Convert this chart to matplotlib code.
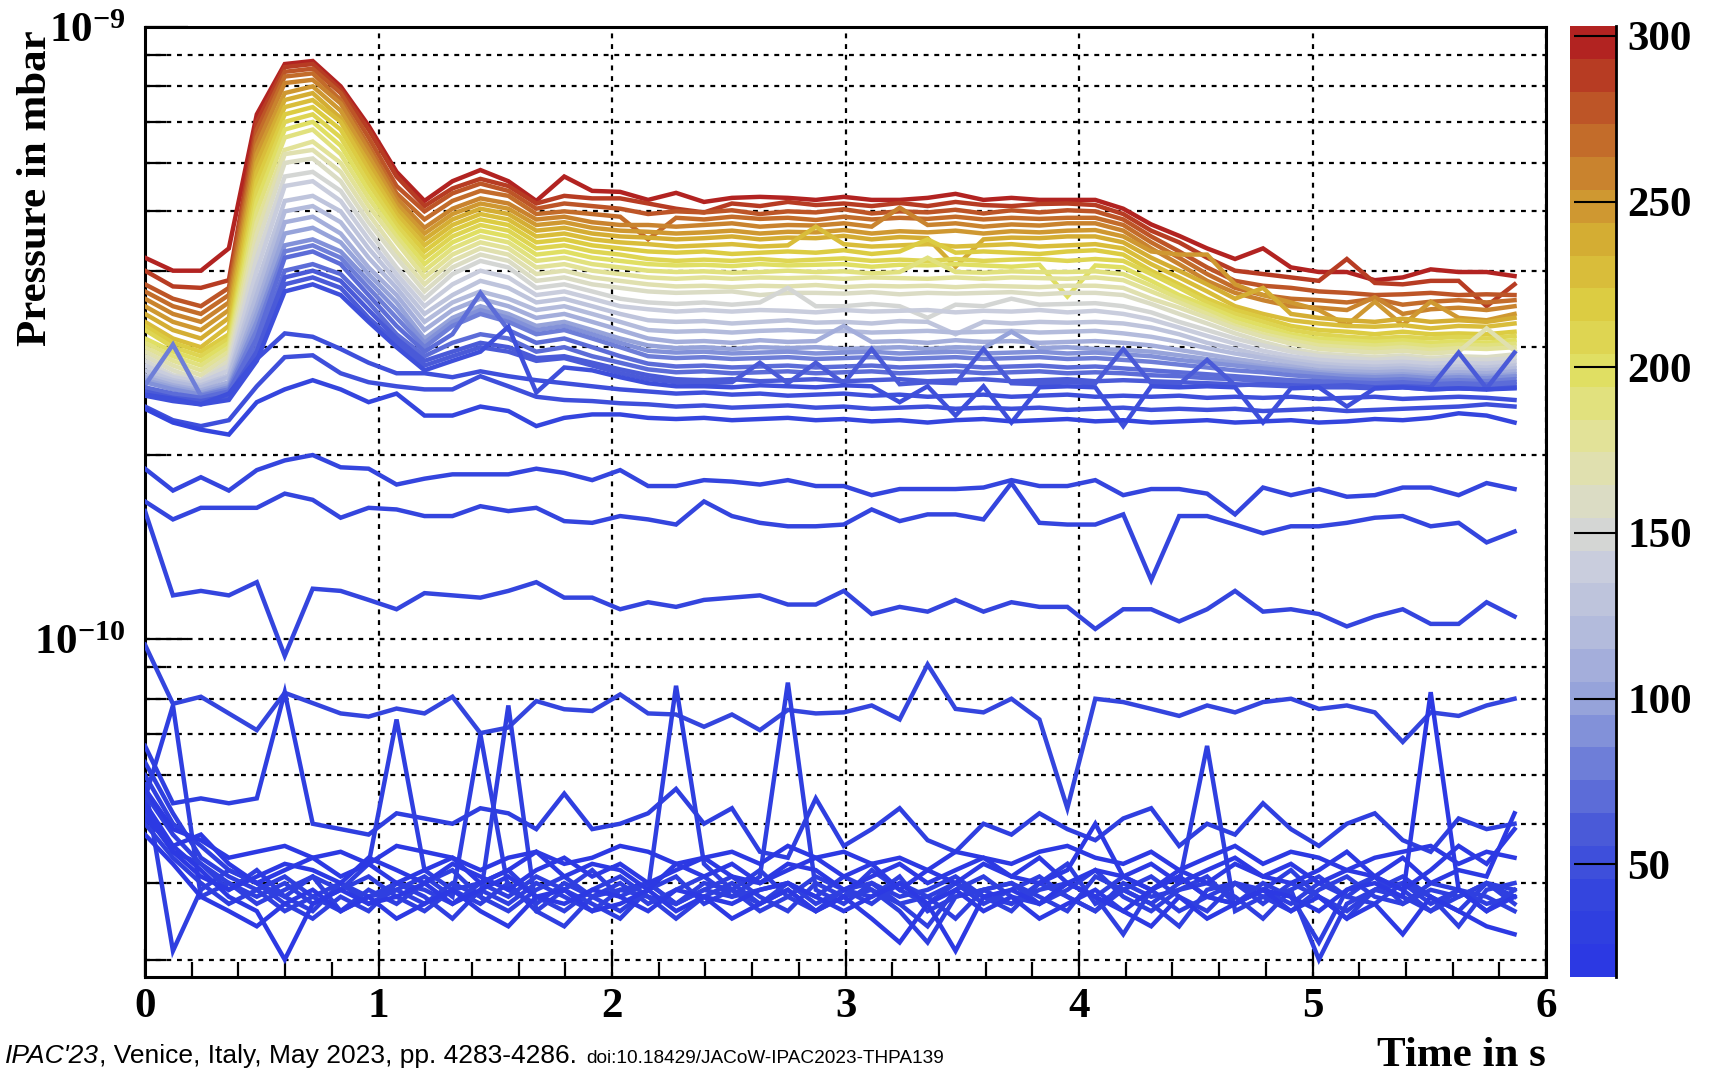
import numpy as np
import matplotlib
matplotlib.use("Agg")
import matplotlib.pyplot as plt
from matplotlib.colors import LinearSegmentedColormap, ListedColormap, BoundaryNorm
from matplotlib.cm import ScalarMappable
from matplotlib.ticker import FixedLocator, NullFormatter

plt.rcParams['font.family'] = ['Liberation Serif', 'DejaVu Serif']
plt.rcParams['font.weight'] = 'bold'
plt.rcParams['mathtext.fontset'] = 'custom'
plt.rcParams['mathtext.rm'] = 'Liberation Serif:bold'
plt.rcParams['mathtext.it'] = 'Liberation Serif:bold'
plt.rcParams['mathtext.bf'] = 'Liberation Serif:bold'

# sampling times (s), 50 samples per curve
time = np.arange(50) * 0.1197

# pressures in units of 1e-11 mbar, one list per curve
# warm / upper bundle, colour values 300 ... 55
upper_vals = [300, 290, 280, 270, 260, 250, 240, 230, 220, 210, 200, 190, 180, 170,
              160, 150, 140, 130, 120, 110, 100, 90, 80, 75, 70, 65, 60, 55]
upper_lines = [
    [42, 40, 40, 43.5, 72, 87, 88, 80, 69, 58,
     52, 56, 58.4, 56, 52, 57, 54, 53.8, 52.2, 53.6,
     51.8, 52.6, 52.8, 52.6, 52.2, 52.8, 52.2, 52.2, 52.6, 53.4,
     52.2, 52.6, 52.2, 52.2, 52.2, 50.5, 47.6, 45.6, 43.5, 41.8,
     43.5, 40.5, 39.8, 39.8, 38.6, 39.0, 40.2, 39.8, 39.8, 39.2],
    [40, 37.7, 37.5, 38.6, 70, 86, 87, 79, 68, 57,
     51, 54.5, 56.5, 55, 51.5, 53, 52.5, 52.5, 51.5, 50.5,
     49.8, 51.5, 51.0, 51.8, 51.2, 51.5, 51.0, 51.6, 51.0, 51.8,
     51.2, 51.0, 51.4, 51.5, 51.2, 49.5, 46.5, 44.5, 42.0, 40.0,
     39.5, 39.0, 38.5, 41.8, 38.2, 38.0, 38.5, 38.5, 35.0, 38.0],
    [38, 36, 35, 37.5, 68, 84.5, 85.5, 78, 66, 55,
     50, 53.5, 55.5, 54, 50.5, 51.5, 51, 50.5, 49.5, 50.0,
     49.8, 50.2, 49.5, 50.0, 49.8, 50.4, 49.6, 50.0, 49.8, 50.3,
     49.6, 50.2, 49.8, 50.2, 50.0, 48.5, 45.5, 43.0, 40.5, 38.5,
     37.8, 37.5, 37.0, 36.8, 36.5, 36.6, 36.8, 36.5, 36.6, 36.5],
    [37, 35, 34, 36.5, 66, 83, 84, 76, 64, 53.5,
     48.5, 52, 54, 53, 49.5, 50, 49.5, 49, 45, 48.8,
     48.5, 49.0, 48.6, 48.8, 48.4, 49.0, 48.5, 48.8, 48.6, 49.0,
     48.5, 48.8, 48.6, 48.8, 48.8, 47.5, 44.5, 42.0, 39.5, 37.5,
     36.5, 36.0, 35.8, 35.5, 36.0, 35.2, 35.6, 35.8, 35.5, 35.8],
    [36, 34, 33, 35.5, 64, 81, 82, 75, 63, 52.5,
     47, 50.5, 52.5, 51.5, 48.5, 49, 48, 47.5, 47.5, 47.2,
     47.5, 47.8, 47.2, 47.5, 47.4, 47.8, 47.2, 50.7, 47.5, 47.8,
     47.2, 47.6, 47.4, 47.8, 47.8, 46.5, 43.5, 41.0, 38.5, 36.8,
     35.8, 35.0, 34.8, 34.5, 36.2, 34.0, 34.6, 34.8, 34.5, 35.0],
    [35, 33, 32, 34.5, 62, 78, 80, 73, 61.5, 51.5,
     46, 49.5, 51.5, 50.5, 47.5, 48, 47, 46.5, 46.3, 46.0,
     46.2, 46.5, 46.0, 46.3, 46.2, 46.6, 46.0, 46.4, 46.2, 46.5,
     46.0, 46.4, 46.2, 46.5, 46.6, 45.5, 43.0, 42.5, 42.5, 38.0,
     36.5, 35.5, 34.5, 32.6, 35.6, 32.6, 35.6, 33.5, 33.2, 34.0],
    [34, 32, 31, 33.5, 60, 76, 78, 71, 60, 50.5,
     45, 48.5, 50.5, 49.5, 46.5, 47, 46, 45.5, 45.3, 45.0,
     45.2, 45.5, 45.0, 45.3, 45.2, 45.6, 45.0, 45.4, 45.2, 40.6,
     45.0, 45.3, 45.2, 45.5, 45.5, 44.5, 42.0, 40.0, 38.0, 36.0,
     37.5, 34.0, 33.5, 33.2, 33.0, 33.4, 33.0, 33.2, 33.0, 33.5],
    [33, 31, 30, 32.5, 58, 74, 76, 70, 58.5, 49.5,
     44, 47.5, 49.5, 48.5, 45.5, 46, 45, 44.5, 44.2, 43.8,
     44.0, 44.2, 43.8, 44.0, 47.2, 44.2, 43.8, 44.0, 44.2, 43.8,
     44.0, 44.2, 43.8, 44.0, 44.2, 43.5, 41.0, 39.0, 37.0, 35.0,
     34.0, 33.2, 32.8, 32.5, 32.4, 32.6, 32.2, 32.5, 32.4, 32.8],
    [32.5, 30.5, 29.5, 31.5, 56, 72, 74, 68, 57, 48.5,
     43, 46.5, 48.5, 47.5, 44.5, 45, 44, 43.5, 43.0, 42.8,
     43.0, 42.6, 42.8, 43.0, 42.8, 43.2, 42.6, 43.0, 45.0, 42.8,
     43.0, 42.8, 42.6, 43.0, 43.2, 42.5, 40.0, 38.0, 36.0, 34.5,
     33.5, 32.5, 32.0, 31.8, 31.5, 31.8, 31.5, 31.6, 31.5, 31.8],
    [32, 30, 29, 31, 54, 70, 72, 66, 55.5, 47.5,
     42, 45.5, 47.5, 46.5, 43.5, 44, 43, 42.5, 41.8, 41.5,
     41.7, 41.5, 41.8, 41.5, 41.7, 41.9, 41.5, 41.7, 41.5, 41.8,
     41.5, 41.7, 41.8, 41.5, 41.8, 41.5, 39.5, 37.5, 35.5, 34.0,
     33.0, 32.0, 31.5, 31.2, 31.0, 31.2, 31.0, 31.2, 31.0, 31.3],
    [31, 29.5, 28.5, 30.5, 52, 68, 70, 64, 54, 46.5,
     41, 44.5, 46.5, 45.5, 42.5, 43, 42, 41.5, 41.0, 40.8,
     40.9, 40.7, 41.0, 40.8, 40.9, 41.0, 40.6, 40.9, 40.8, 41.0,
     40.8, 40.6, 40.9, 36.3, 40.8, 40.5, 38.5, 36.5, 35.0, 33.5,
     32.5, 31.5, 31.0, 30.8, 30.6, 30.8, 30.5, 30.7, 30.5, 30.8],
    [30.5, 29, 28, 30, 50, 66, 68, 62, 52.5, 45.5,
     40, 43.5, 45.5, 44.5, 41.5, 42, 41, 40.5, 40.0, 39.8,
     39.9, 39.7, 39.8, 40.0, 39.8, 39.9, 39.6, 39.8, 42.0, 39.8,
     39.7, 39.9, 39.8, 39.8, 39.9, 39.5, 37.8, 36.0, 34.5, 33.0,
     32.0, 31.2, 30.6, 30.4, 30.2, 30.4, 30.1, 30.3, 30.2, 30.4],
    [30, 28.5, 27.5, 29.5, 48, 63, 65, 60, 51, 44.5,
     39, 42.5, 44.5, 43.5, 40.5, 41, 40, 39.5, 39.0, 38.8,
     39.0, 38.8, 39.0, 38.9, 39.0, 38.8, 39.0, 38.9, 38.8, 39.0,
     38.8, 39.0, 38.9, 38.8, 39.0, 38.6, 37.0, 35.5, 34.0, 32.5,
     31.5, 30.8, 30.2, 30.0, 29.8, 30.0, 29.7, 29.9, 29.8, 30.0],
    [29.5, 28, 27, 29, 46, 62, 63, 58, 49.5, 43,
     38, 41.5, 43.5, 42.5, 39.5, 40, 39, 38.5, 38.0, 37.7,
     37.8, 37.6, 37.8, 37.7, 37.9, 37.6, 37.8, 37.7, 37.8, 37.6,
     37.8, 37.7, 37.6, 37.8, 37.8, 37.5, 36.0, 34.8, 33.5, 32.2,
     31.2, 30.4, 29.8, 29.6, 29.4, 29.6, 29.3, 29.5, 32.2, 29.6],
    [29, 27.5, 26.5, 28.5, 44, 60, 61, 56, 48, 42,
     37, 40.5, 42.5, 41.5, 38.5, 39, 38, 37.5, 37.0, 36.8,
     36.9, 37.0, 36.5, 36.8, 36.8, 36.7, 36.9, 36.6, 36.8, 36.7,
     36.8, 36.9, 36.6, 36.8, 36.8, 36.5, 35.3, 34.0, 32.8, 31.6,
     30.6, 29.8, 29.3, 29.1, 28.9, 29.1, 28.8, 29.0, 28.9, 29.2],
    [28.5, 27, 26.5, 28, 42, 57, 58, 54, 46.5, 40.5,
     36, 39.5, 41.5, 40.5, 37.5, 38, 37, 36, 35.5, 35.3,
     35.5, 35.2, 35.5, 37.5, 35.0, 35.0, 35.3, 35.0, 33.5, 35.2,
     35.0, 36.0, 35.2, 35.3, 35.4, 35.0, 34.2, 33.0, 32.0, 31.0,
     30.2, 29.5, 29.0, 28.8, 28.6, 28.8, 28.5, 28.7, 28.6, 28.8],
    [28, 26.8, 26.3, 27.5, 40, 55, 56, 52, 45, 39.5,
     35, 38, 40, 39, 36.5, 37, 36, 35, 34.6, 34.3,
     34.5, 34.3, 34.5, 34.4, 34.2, 34.5, 34.3, 34.4, 34.5, 34.2,
     34.4, 34.3, 34.5, 34.2, 34.4, 34.0, 33.3, 32.3, 31.3, 30.4,
     29.6, 29.0, 28.6, 28.4, 28.3, 28.4, 28.2, 28.3, 28.2, 28.4],
    [27.5, 26.5, 26, 27, 38, 52, 53, 50, 43.5, 38.5,
     34, 36.5, 38.5, 37.5, 35.5, 36, 35, 34, 33.2, 33.0,
     33.1, 32.8, 33.0, 33.2, 32.9, 33.0, 32.8, 33.1, 33.0, 31.5,
     33.0, 32.8, 33.0, 32.9, 33.0, 32.8, 32.3, 31.5, 30.5, 29.8,
     29.1, 28.6, 28.2, 28.0, 27.9, 28.0, 27.8, 27.9, 27.8, 28.0],
    [27, 26.3, 25.8, 26.8, 36.5, 50, 51, 48, 42, 37.5,
     33, 35.5, 37, 36, 34.5, 35, 34, 33, 32.0, 31.8,
     31.9, 31.7, 31.9, 32.0, 31.8, 31.9, 31.7, 31.8, 31.9, 31.7,
     31.8, 31.9, 31.7, 31.8, 31.9, 31.6, 31.2, 30.6, 29.9, 29.3,
     28.8, 28.3, 27.9, 27.7, 27.6, 27.7, 27.5, 27.6, 27.5, 27.7],
    [26.8, 26, 25.5, 26.3, 35, 48, 49, 46, 40.5, 36.5,
     32, 34.5, 36, 35, 33.5, 34, 33, 32, 31.0, 30.6,
     30.7, 30.5, 30.8, 30.6, 30.7, 32.5, 30.6, 30.7, 30.5, 30.8,
     30.6, 30.7, 30.5, 30.6, 30.7, 30.5, 30.2, 29.7, 29.2, 28.7,
     28.3, 27.9, 27.5, 27.4, 27.3, 27.4, 27.2, 27.3, 27.2, 27.4],
    [26.5, 25.8, 25.3, 26, 34, 46, 47, 44.5, 39.5, 35.5,
     31, 33.5, 35, 34, 32.5, 33, 32, 31, 30.2, 29.9,
     30.0, 29.8, 30.0, 29.9, 30.0, 29.8, 29.9, 30.0, 29.8, 30.0,
     29.9, 31.8, 29.9, 30.0, 29.8, 29.7, 29.5, 29.1, 28.7, 28.3,
     27.9, 27.6, 27.3, 27.1, 27.0, 27.1, 26.9, 27.0, 26.9, 27.1],
    [26.3, 25.6, 25.1, 25.8, 33, 44, 45, 43, 38.5, 34.5,
     30.5, 33, 34.5, 33.5, 32, 32.5, 31.5, 30.5, 29.6, 29.4,
     29.5, 29.3, 29.4, 29.5, 29.3, 29.4, 29.5, 29.3, 29.4, 29.5,
     29.3, 29.4, 29.5, 29.3, 29.4, 29.2, 29.0, 28.6, 28.3, 28.0,
     27.7, 27.4, 27.1, 26.9, 26.8, 26.9, 26.7, 26.8, 26.7, 26.9],
    [26, 30.3, 25, 25.6, 32, 43, 44, 42, 37.5, 33.5,
     30, 32.5, 34, 33, 31.5, 32, 31, 30, 29.0, 28.8,
     28.9, 28.7, 28.8, 28.9, 28.7, 28.8, 28.9, 28.7, 28.8, 28.9,
     28.7, 28.8, 28.9, 28.7, 28.8, 28.6, 28.4, 28.1, 27.8, 27.5,
     27.3, 27.0, 26.8, 26.6, 26.5, 26.6, 26.4, 26.5, 26.4, 26.6],
    [25.8, 25.2, 24.8, 25.4, 31, 42, 43, 41, 36.5, 32.5,
     29.5, 31.5, 36.8, 32, 30.5, 31, 30, 29, 28.2, 27.9,
     28.0, 27.8, 27.9, 28.0, 27.8, 27.9, 28.0, 27.8, 27.9, 28.0,
     27.8, 27.9, 28.0, 27.8, 27.9, 27.7, 27.5, 27.3, 27.1, 26.9,
     26.7, 26.5, 26.4, 26.3, 26.2, 26.3, 26.1, 26.2, 26.1, 26.3],
    [25.6, 25, 24.6, 25.2, 30, 40, 41, 39.5, 35.5, 31.5,
     29, 30.5, 31.5, 31, 29.5, 30, 29, 28.3, 27.6, 27.3,
     27.4, 27.2, 27.3, 27.4, 27.2, 27.3, 27.4, 27.2, 27.3, 27.4,
     27.2, 27.3, 27.4, 27.2, 27.3, 27.2, 27.0, 26.9, 26.7, 26.6,
     26.4, 26.3, 26.2, 26.1, 26.0, 26.1, 25.9, 26.0, 25.9, 26.1],
    [25.4, 24.8, 24.5, 25, 29.5, 39, 40, 38.5, 34.5, 31,
     28.5, 29.5, 30.5, 30, 28.8, 29, 28.3, 27.6, 27.0, 26.6,
     26.5, 26.6, 26.4, 26.5, 26.6, 26.4, 26.5, 26.6, 26.4, 26.5,
     26.6, 26.4, 26.5, 26.6, 26.4, 26.5, 26.4, 26.3, 26.2, 26.1,
     26.0, 25.9, 25.8, 25.8, 25.7, 25.8, 25.6, 25.7, 25.6, 25.8],
    [25.2, 24.6, 24.3, 24.8, 29, 38, 39, 37.5, 33.5, 30.5,
     28, 29, 30, 29.5, 28.5, 28.8, 28, 27.2, 26.6, 26.3,
     26.2, 26.3, 28.3, 26.2, 28.3, 26.2, 29.8, 26.1, 26.3, 26.2,
     29.8, 26.2, 26.1, 26.3, 26.2, 29.8, 26.2, 26.1, 28.6, 26.0,
     26.1, 26.0, 25.9, 26.0, 25.8, 25.9, 25.8, 29.4, 25.7, 29.4],
    [25, 24.5, 24.2, 24.6, 28.5, 37, 38, 36.5, 33, 30,
     27.5, 28.5, 29.5, 32.4, 25.3, 27.8, 27.5, 26.8, 26.2, 25.9,
     25.9, 25.8, 26.0, 25.9, 25.8, 26.0, 25.9, 24.4, 25.9, 23.2,
     25.9, 22.6, 25.8, 25.9, 25.8, 22.3, 25.9, 25.8, 25.9, 25.8,
     22.6, 25.7, 25.8, 24.0, 25.7, 25.8, 25.6, 25.7, 25.6, 25.7],
]

# curves just under the bundle and the flat ones between 1e-10 and 2e-10
middle_vals = [50, 47, 44, 42, 40, 38]
middle_lines = [
    [25.1, 24.7, 24.2, 25.2, 28.7, 31.6, 31.2, 29.8, 28.3, 27.2,
     27.2, 26.8, 27.4, 26.9, 26.5, 26.2, 25.9, 25.6, 25.4, 25.2,
     25.3, 25.1, 25.2, 25.0, 25.1, 25.2, 25.0, 25.1, 24.9, 25.0,
     25.1, 24.9, 25.0, 25.1, 24.9, 25.0, 24.9, 25.0, 24.8, 24.9,
     24.8, 24.9, 24.7, 24.8, 24.9, 24.7, 24.8, 24.9, 24.8, 24.6],
    [24.0, 22.8, 22.3, 22.8, 25.9, 28.9, 29.1, 27.2, 26.3, 25.9,
     25.6, 25.6, 26.9, 25.9, 24.9, 24.6, 24.5, 24.3, 24.2, 24.0,
     24.1, 23.9, 24.0, 24.1, 23.9, 24.0, 23.8, 23.9, 24.0, 23.8,
     23.9, 23.8, 23.9, 23.7, 23.8, 23.9, 23.7, 23.8, 23.7, 23.8,
     23.6, 23.7, 23.8, 23.6, 23.7, 23.8, 23.9, 24.0, 24.2, 24.0],
    [23.8, 22.6, 22.0, 21.6, 24.4, 25.6, 26.5, 25.6, 24.4, 25.2,
     23.2, 23.2, 24.0, 23.6, 22.3, 23.0, 23.3, 23.3, 23.0, 22.9,
     23.0, 22.8, 22.9, 23.0, 22.8, 22.9, 22.7, 22.8, 22.6, 22.8,
     22.9, 22.7, 22.8, 22.9, 22.7, 22.8, 22.6, 22.7, 22.8, 22.6,
     22.7, 22.8, 22.6, 22.7, 22.9, 22.8, 23.0, 23.4, 23.2, 22.6],
    [19.0, 17.5, 18.4, 17.5, 18.9, 19.6, 20.0, 19.1, 19.0, 17.9,
     18.3, 18.6, 18.6, 18.6, 19.0, 18.7, 18.2, 18.9, 17.8, 17.8,
     18.2, 18.1, 17.9, 18.2, 17.8, 17.8, 17.2, 17.6, 17.6, 17.6,
     17.7, 18.2, 17.8, 17.8, 18.2, 17.2, 17.6, 17.6, 17.3, 16.0,
     17.7, 17.2, 17.6, 17.1, 17.2, 17.7, 17.7, 17.2, 18.0, 17.6],
    [16.8, 15.7, 16.4, 16.4, 16.4, 17.3, 16.9, 15.8, 16.4, 16.3,
     15.9, 15.9, 16.5, 16.2, 16.4, 15.6, 15.5, 15.9, 15.7, 15.4,
     16.8, 15.9, 15.5, 15.3, 15.3, 15.4, 16.3, 15.6, 16.0, 16.0,
     15.7, 18.0, 15.5, 15.4, 15.4, 16.0, 12.5, 15.9, 15.9, 15.4,
     14.9, 15.3, 15.3, 15.5, 15.8, 15.9, 15.3, 15.5, 14.4, 15.0],
    [16.2, 11.8, 12.0, 11.8, 12.4, 9.4, 12.1, 12.0, 11.6, 11.2,
     11.9, 11.8, 11.7, 12.0, 12.4, 11.7, 11.7, 11.2, 11.5, 11.3,
     11.6, 11.7, 11.8, 11.4, 11.4, 12.0, 11.0, 11.3, 11.1, 11.6,
     11.1, 11.5, 11.3, 11.3, 10.4, 11.2, 11.2, 10.7, 11.2, 12.0,
     11.1, 11.2, 11.0, 10.5, 10.9, 11.2, 10.6, 10.6, 11.5, 10.9],
]

# noisy curves below 1e-10
lower_vals = [36, 34, 32, 31, 30, 29, 28, 27, 26, 25, 24, 22, 20, 18]
lower_lines = [
    [9.8, 7.85, 8.06, 7.57, 7.11, 8.18, 7.87, 7.57, 7.48, 7.71,
     7.57, 8.06, 7.03, 7.18, 7.93, 7.69, 7.64, 8.13, 7.57, 7.54,
     7.20, 7.54, 7.11, 7.67, 7.57, 7.6, 7.8, 7.4, 9.1, 7.7,
     7.6, 8.0, 7.4, 5.3, 8.0, 7.9, 7.7, 7.5, 7.8, 7.6,
     7.9, 8.0, 7.7, 7.8, 7.6, 6.8, 7.6, 7.5, 7.8, 8.0],
    [6.7, 5.4, 5.5, 5.4, 5.5, 8.2, 5.0, 4.9, 4.8, 5.2,
     5.1, 5.0, 5.3, 5.2, 4.9, 5.6, 4.9, 5.0, 5.2, 5.7,
     5.0, 5.3, 4.5, 4.4, 5.5, 4.6, 4.9, 5.3, 4.7, 4.5,
     5.0, 4.8, 5.2, 4.9, 4.7, 5.1, 5.3, 4.6, 5.0, 4.8,
     5.4, 4.9, 4.6, 5.0, 5.2, 4.7, 4.5, 5.1, 4.9, 5.0],
    [5.5, 7.8, 3.8, 4.0, 3.7, 3.9, 4.1, 3.6, 3.8, 4.0,
     3.9, 3.7, 4.0, 4.2, 3.8, 3.6, 3.9, 4.1, 3.8, 3.7,
     4.0, 3.9, 3.6, 3.8, 4.1, 3.9, 3.7, 4.0, 3.8, 3.5,
     3.9, 4.0, 3.8, 3.6, 4.1, 3.9, 3.7, 3.4, 3.9, 4.0,
     3.8, 3.6, 3.9, 4.1, 3.8, 3.7, 4.0, 3.9, 3.6, 3.9],
    [6.0, 5.0, 4.6, 4.2, 4.0, 3.8, 4.1, 3.9, 4.3, 7.4,
     4.2, 3.9, 3.7, 4.0, 3.6, 3.9, 4.2, 3.8, 4.0, 3.7,
     3.9, 4.1, 3.8, 3.6, 4.0, 3.8, 4.2, 3.9, 3.7, 4.0,
     3.8, 3.6, 4.0, 4.3, 3.7, 3.9, 4.1, 3.8, 3.6, 4.0,
     3.7, 4.0, 3.8, 3.5, 3.9, 4.1, 3.8, 3.6, 4.0, 3.7],
    [5.2, 4.5, 4.3, 3.9, 4.2, 3.8, 3.6, 4.0, 3.7, 3.9,
     4.1, 3.8, 7.0, 3.9, 3.7, 4.0, 3.8, 3.6, 3.9, 4.1,
     3.7, 3.9, 4.2, 3.8, 3.6, 3.9, 4.0, 3.7, 3.4, 3.9,
     4.1, 3.8, 3.7, 4.0, 3.8, 3.3, 3.9, 4.1, 3.8, 3.7,
     4.0, 3.8, 3.2, 3.9, 4.1, 3.7, 3.9, 3.8, 4.0, 3.8],
    [5.0, 4.4, 4.0, 3.7, 3.9, 4.1, 3.8, 3.6, 3.9, 3.7,
     4.0, 4.2, 3.8, 7.8, 3.6, 3.4, 3.8, 4.0, 3.7, 3.9,
     4.1, 3.8, 3.9, 4.0, 3.7, 3.9, 3.8, 4.1, 3.6, 3.8,
     3.9, 4.0, 3.7, 3.9, 4.2, 3.8, 3.6, 3.9, 4.0, 3.8,
     3.5, 3.9, 4.1, 3.8, 3.7, 4.0, 3.8, 3.4, 3.9, 4.0],
    [5.6, 4.8, 4.3, 4.0, 3.8, 4.0, 3.7, 3.9, 4.1, 3.8,
     3.6, 3.9, 4.0, 3.8, 4.1, 3.9, 3.7, 3.5, 3.9, 8.4,
     4.3, 3.9, 3.7, 4.0, 3.8, 4.1, 3.9, 3.7, 3.8, 4.0,
     3.7, 3.9, 4.1, 3.8, 3.6, 4.0, 3.8, 3.9, 4.1, 3.7,
     3.9, 4.2, 3.8, 3.6, 3.9, 4.0, 3.7, 3.9, 3.8, 3.6],
    [6.3, 5.2, 4.4, 4.1, 3.9, 3.6, 3.8, 4.0, 3.8, 3.9,
     3.7, 4.0, 3.8, 3.6, 3.9, 4.1, 3.8, 3.9, 4.0, 3.7,
     3.9, 3.8, 4.1, 8.5, 3.9, 3.7, 4.0, 3.8, 3.9, 4.1,
     3.8, 3.7, 3.9, 4.0, 3.8, 4.1, 3.9, 3.6, 3.8, 4.0,
     3.9, 3.7, 4.0, 3.8, 4.1, 3.9, 3.6, 3.8, 4.0, 3.9],
    [5.8, 3.1, 3.9, 4.2, 4.0, 3.7, 3.5, 3.8, 3.6, 4.0,
     3.8, 3.5, 3.9, 3.7, 4.0, 3.8, 3.6, 3.9, 3.8, 3.5,
     3.8, 4.0, 3.7, 3.9, 3.6, 3.8, 3.9, 3.6, 3.2, 3.8,
     3.9, 3.7, 4.0, 3.8, 3.6, 3.9, 3.7, 4.0, 6.7, 3.6,
     3.8, 3.9, 3.0, 3.7, 3.9, 3.8, 3.6, 3.9, 3.7, 3.8],
    [5.4, 4.6, 4.2, 3.8, 3.6, 3.0, 3.7, 3.9, 3.7, 3.8,
     4.0, 3.7, 3.9, 4.1, 3.8, 3.7, 3.9, 3.8, 3.6, 3.9,
     3.8, 3.7, 3.9, 4.0, 3.8, 3.6, 3.8, 4.0, 3.7, 3.1,
     3.8, 3.9, 3.7, 4.0, 3.8, 3.6, 3.9, 4.1, 3.8, 3.7,
     3.9, 3.8, 3.6, 3.9, 4.0, 3.8, 8.2, 3.9, 3.6, 3.8],
    [5.7, 4.9, 4.7, 4.4, 4.5, 4.6, 4.4, 4.5, 4.3, 4.6,
     4.5, 4.4, 4.2, 4.4, 4.5, 4.3, 4.4, 4.6, 4.5, 4.3,
     4.4, 4.5, 4.3, 4.6, 4.4, 4.5, 4.3, 4.4, 4.2, 4.5,
     4.4, 4.3, 4.5, 4.6, 4.4, 4.3, 4.5, 4.2, 4.4, 4.6,
     4.3, 4.5, 4.4, 4.2, 4.4, 4.5, 4.6, 4.3, 4.5, 4.4],
    [5.3, 4.5, 4.1, 3.9, 4.1, 4.3, 4.2, 4.0, 4.4, 4.2,
     4.0, 4.3, 4.1, 3.9, 4.2, 4.4, 4.1, 4.3, 4.0, 4.2,
     4.4, 4.1, 4.0, 4.3, 4.2, 3.9, 4.1, 4.3, 4.0, 4.2,
     4.4, 4.1, 4.0, 4.2, 5.0, 4.1, 3.9, 4.2, 4.0, 4.3,
     4.1, 4.0, 4.2, 4.5, 4.1, 3.9, 4.2, 4.6, 4.3, 4.9],
    [4.8, 4.3, 3.8, 3.6, 3.4, 3.7, 3.9, 3.6, 3.8, 3.5,
     3.7, 3.9, 3.6, 3.4, 3.8, 3.9, 3.6, 3.7, 3.9, 3.6,
     3.8, 3.5, 3.7, 3.9, 3.6, 3.8, 3.5, 3.2, 3.7, 3.9,
     3.6, 3.8, 3.5, 3.7, 3.9, 3.6, 3.4, 3.8, 3.5, 3.7,
     3.9, 3.6, 3.8, 3.5, 3.7, 3.3, 3.8, 3.6, 3.4, 3.3],
    [5.1, 4.6, 4.8, 4.3, 4.0, 4.2, 4.4, 4.1, 4.3, 4.0,
     4.2, 4.4, 4.0, 4.2, 4.5, 4.1, 4.3, 4.2, 3.9, 4.3,
     4.1, 4.3, 4.0, 4.2, 4.4, 4.1, 4.3, 3.9, 4.2, 4.0,
     4.3, 4.1, 4.4, 4.0, 4.2, 4.1, 4.3, 4.0, 4.2, 4.4,
     4.1, 4.3, 4.0, 4.2, 4.1, 4.4, 4.0, 4.2, 4.1, 5.2],
]

# palette (value -> colour) and its band edges
pal_vals = [16, 40, 60, 80, 100, 120, 140, 152, 165, 180, 200, 220, 240, 255, 270, 285, 303]
pal_cols = ['#2a36e4', '#3344de', '#4a5ad8', '#6e7ed8', '#95a2da', '#b4bcdc', '#c9cddd',
            '#d6d8d2', '#dfdfb8', '#e2e296', '#e0df62', '#dccb40', '#d4ab32', '#cc8c30',
            '#c26a2a', '#b84424', '#b01820']
z_min, z_max, n_bands = 16, 303, 29

smooth = LinearSegmentedColormap.from_list(
    'pal', [((v - z_min) / (z_max - z_min), c) for v, c in zip(pal_vals, pal_cols)])
bounds = np.linspace(z_min, z_max, n_bands + 1)
cmap = ListedColormap([smooth((b + 0.5 * (bounds[1] - bounds[0]) - z_min) / (z_max - z_min))
                       for b in bounds[:-1]])
norm = BoundaryNorm(bounds, cmap.N)

W, H = 1710, 1074
fig = plt.figure(figsize=(W / 100, H / 100), dpi=100)
ax = fig.add_axes([145 / W, 1 - 977 / H, (1546 - 145) / W, (977 - 27) / H])

for vals, z in zip(upper_lines + middle_lines + lower_lines,
                   upper_vals + middle_vals + lower_vals):
    ax.plot(time[:len(vals)], np.array(vals) * 1e-11, color=cmap(norm(z)),
            lw=3.2, solid_joinstyle='miter', zorder=3)

ax.set_yscale('log')
ax.set_xlim(0, 6)
ax.set_ylim(2.81e-11, 1e-9)
ax.yaxis.set_major_locator(FixedLocator([1e-10, 1e-9]))
ax.set_yticklabels([r'$10^{-10}$', r'$10^{-9}$'])
ax.yaxis.set_minor_locator(FixedLocator([k * 1e-11 for k in range(3, 10)] +
                                        [k * 1e-10 for k in range(2, 10)]))
ax.yaxis.set_minor_formatter(NullFormatter())
ax.set_xticks(range(7))
ax.set_xticks(np.arange(0, 6.01, 0.2), minor=True)

grid_style = dict(color='black', lw=1.6, ls=(0, (2.2, 2.6)))
ax.grid(True, which='both', axis='y', **grid_style)
ax.grid(True, which='major', axis='x', **grid_style)
ax.set_axisbelow(True)

ax.tick_params(axis='y', which='major', direction='in', length=31, width=1.6,
               labelsize=31, pad=14, right=False)
ax.tick_params(axis='y', which='minor', direction='in', length=15, width=1.6, right=False)
ax.tick_params(axis='x', which='major', direction='in', length=20, width=1.6,
               labelsize=31, pad=8, top=False)
ax.tick_params(axis='x', which='minor', direction='in', length=11, width=1.6, top=False)
for sp in ax.spines.values():
    sp.set_linewidth(2.2)

fig.text(36 / W, 1 - 30 / H, 'Pressure in mbar', rotation=90, ha='center', va='top',
         fontsize=31)
fig.text(1546 / W, 1 - 1056 / H, 'Time in s', ha='right', va='center', fontsize=31)

# colour palette axis
cax = fig.add_axes([1570 / W, 1 - 977 / H, 46 / W, (977 - 26) / H])
cb = fig.colorbar(ScalarMappable(norm=norm, cmap=cmap), cax=cax,
                  ticks=[50, 100, 150, 200, 250, 300])
cb.outline.set_visible(False)
cb.ax.yaxis.set_ticks_position('right')
cb.ax.tick_params(axis='y', which='major', direction='in', length=30, width=1.5,
                  labelsize=31, pad=8)
cb.ax.minorticks_off()
cax.plot([1, 1], [0, 1], transform=cax.transAxes, color='black', lw=2, clip_on=False)

# footer line
foot_family = ['Liberation Sans', 'DejaVu Sans']
fig.canvas.draw()
rend = fig.canvas.get_renderer()
yb = 1 - 1063 / H
t1 = fig.text(5 / W, yb, "IPAC'23", family=foot_family, style='italic', weight='normal',
              fontsize=19, va='baseline')
x1 = t1.get_window_extent(rend).x1
t2 = fig.text(x1 / W, yb, ", Venice, Italy, May 2023, pp. 4283-4286.", family=foot_family,
              weight='normal', fontsize=19, va='baseline')
x2 = t2.get_window_extent(rend).x1
fig.text((x2 + 9) / W, yb, "doi:10.18429/JACoW-IPAC2023-THPA139", family=foot_family,
         weight='normal', fontsize=13.7, va='baseline')

fig.savefig('out.png', dpi=100)
